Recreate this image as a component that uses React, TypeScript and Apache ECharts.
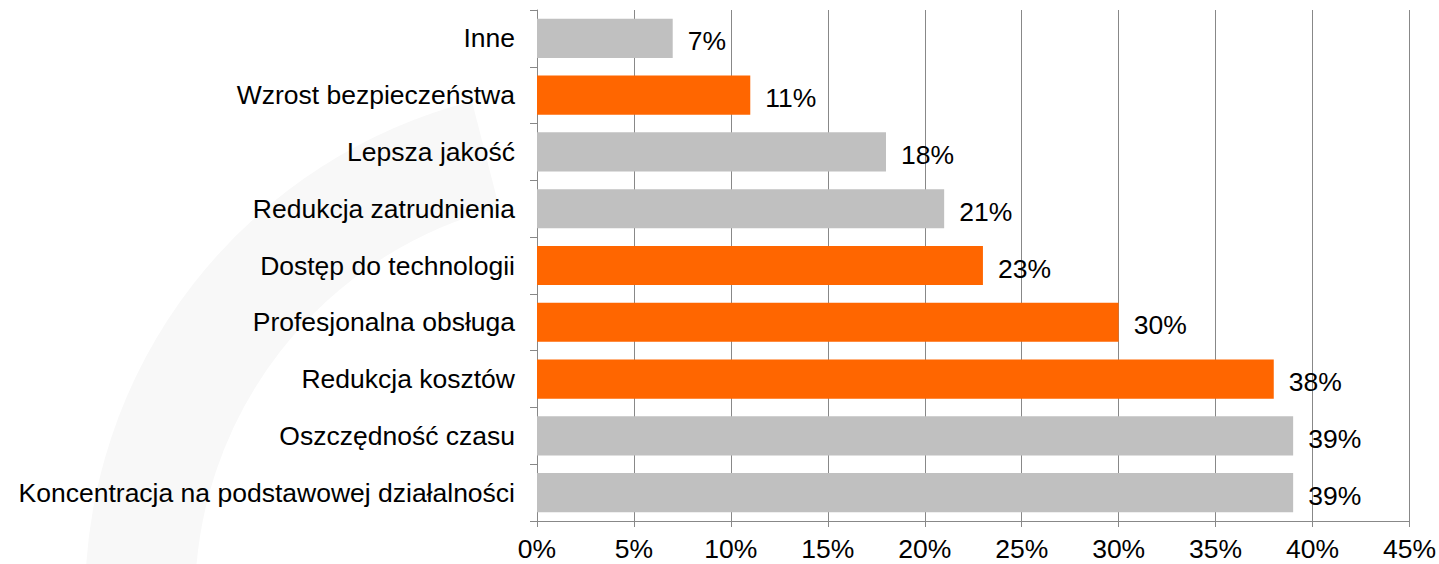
import React, { useEffect, useRef } from "react";
import * as echarts from "echarts";

const categories = [
  "Inne",
  "Wzrost bezpieczeństwa",
  "Lepsza jakość",
  "Redukcja zatrudnienia",
  "Dostęp do technologii",
  "Profesjonalna obsługa",
  "Redukcja kosztów",
  "Oszczędność czasu",
  "Koncentracja na podstawowej działalności",
];
const values = [7, 11, 18, 21, 23, 30, 38, 39, 39];
const highlighted = [false, true, false, false, true, true, true, false, false];
const xTicks = [0, 5, 10, 15, 20, 25, 30, 35, 40, 45];

const GRAY = "#c0c0c0";
const ORANGE = "#ff6600";
const FONT = "'Liberation Sans', Arial, sans-serif";

export default function App() {
  const ref = useRef<HTMLDivElement>(null);
  useEffect(() => {
    if (!ref.current) return;
    const chart = echarts.init(ref.current, undefined, { renderer: "svg" });
    chart.setOption({
      animation: false,
      backgroundColor: "#ffffff",
      graphic: [
        {
          type: "arc",
          z: -10,
          shape: { cx: 600, cy: 600, r: 460, startAngle: Math.PI * 1.0, endAngle: Math.PI * 1.42 },
          style: { stroke: "#f8f8f8", lineWidth: 110, fill: "none" },
          silent: true,
        },
      ],
      grid: { left: 537, right: 29, top: 10, bottom: 43, containLabel: false },
      xAxis: {
        type: "value",
        min: 0,
        max: 45,
        interval: 5,
        axisLine: { show: true, lineStyle: { color: "#888888", width: 1 } },
        axisTick: { show: true, length: 6, lineStyle: { color: "#888888" } },
        splitLine: { show: true, lineStyle: { color: "#888888", width: 1 } },
        axisLabel: {
          formatter: (v: number) => (xTicks.includes(v) ? v + "%" : ""),
          color: "#000000",
          fontFamily: FONT,
          fontSize: 26.5,
          margin: 14,
        },
      },
      yAxis: {
        type: "category",
        data: categories,
        inverse: true,
        axisLine: { show: true, lineStyle: { color: "#888888", width: 1 } },
        axisTick: { show: true, length: 7, lineStyle: { color: "#888888" } },
        axisLabel: {
          color: "#000000",
          fontFamily: FONT,
          fontSize: 26.5,
          margin: 22,
        },
      },
      series: [
        {
          type: "bar",
          barCategoryGap: "31%",
          data: values.map((v, i) => ({
            value: v,
            itemStyle: { color: highlighted[i] ? ORANGE : GRAY },
          })),
          label: {
            show: true,
            position: "right",
            distance: 15,
            formatter: "{c}%",
            color: "#000000",
            fontFamily: FONT,
            fontSize: 26.5,
            offset: [0, 3],
          },
        },
      ],
    });
    return () => chart.dispose();
  }, []);
  return <div ref={ref} style={{ width: 1439, height: 564, position: "absolute", left: 0, top: 0 }} />;
}
